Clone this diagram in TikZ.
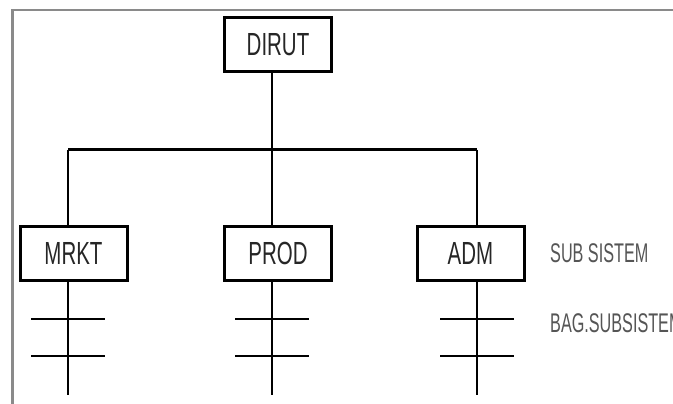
\documentclass[tikz,border=0pt]{standalone}
\usepackage{fontspec}
\usetikzlibrary{calc}
\newfontfamily\unitsans[FakeStretch=0.64]{Liberation Sans}
\newfontfamily\notesans[FakeStretch=0.6]{Liberation Sans}
\newcommand{\unitfont}{\unitsans\fontsize{32}{36}\selectfont}
\newcommand{\notefont}{\notesans\fontsize{27}{31}\selectfont}
\definecolor{frameGray}{HTML}{8A8A8A}
\definecolor{noteGray}{HTML}{555555}
\begin{document}
\begin{tikzpicture}[x=1pt, y=-1pt,
      unit/.style={draw, line width=3pt, minimum width=107pt, minimum height=54pt,
        inner sep=0pt, font=\unitfont, text=black!85},
      link/.style={line width=2pt},
      rung/.style={line width=2.8pt},
      note/.style={anchor=west, inner sep=0pt, font=\notefont, text=noteGray}]
    \clip (0,0) rectangle (673,404);
    \fill[white] (0,0) rectangle (673,404);
    % outer frame
    \draw[frameGray, line width=2.5pt] (12.5,404) -- (12.5,10) -- (673,10);
    % boxes
    \node[unit] (dirut) at (278,44.5) {DIRUT};
    \node[unit] (mrkt) at (73.5,253) {MRKT};
    \node[unit] (prod) at (278,253) {PROD};
    \node[unit] (adm) at (470.5,253) {ADM};
    % tree
    \coordinate (top) at (272,150);
    \draw[link] (dirut.south -| top) -- (top);
    \draw[line width=3pt] (68,150) coordinate (left) -- (477,150) coordinate (right);
    \foreach \sub/\x in {mrkt/68, prod/272, adm/477} {
      \coordinate (\sub-top) at (\x,150);
      \coordinate (\sub-end) at (\x,395);
      \draw[link] (\sub-top) -- (\sub.north -| \sub-top);
      \draw[link] (\sub.south -| \sub-top) -- (\sub-end);
      \foreach \y in {319,356} \draw[rung] (\x-37,\y) -- (\x+37,\y);
    }
    \node[note] (lvl1) at (550,253) {SUB SISTEM};
    \node[note] (lvl2) at (550,323) {BAG.SUBSISTEM};
  \end{tikzpicture}
\end{document}
